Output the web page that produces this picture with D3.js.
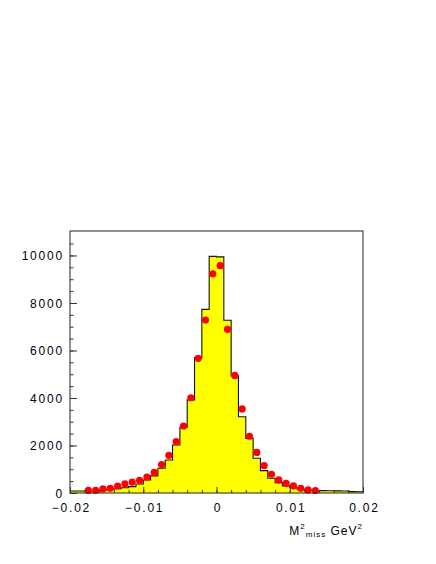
<!DOCTYPE html>
<html>
<head>
<meta charset="utf-8">
<script src="https://cdn.jsdelivr.net/npm/d3@7"></script>
<style>
	body { margin: 0; background: #fff; }
	svg text { font-family: "Liberation Sans", Arial, Helvetica, sans-serif; fill: #000; }
	.axis text { font-size: 12px; letter-spacing: 1.8px; }
	.axis line { stroke: #333; }
</style>
</head>
<body>
<div id="picture"></div>
<script>
// histogram: 40 bins of 0.001 GeV^2 from -0.02 to 0.02
const binWidth  = 0.001
	, binEdges  = d3.range(0, 41).map(i => +(-0.02 + i * binWidth).toFixed(4))
	, histCounts = [
		  85,   85,   95,  105,  125,  150,  180,  220,  270,  380,
		 550,  720, 1040, 1390, 2020, 2770, 3920, 5700, 7730, 9960,
		9940, 7270, 4930, 3210, 2300, 1460,  940,  620,  435,  300,
		 220,  160,  125,  105,  100,   95,   90,   85,   60,   55
	]
	// red points: bin centres from -0.0175 to 0.0135
	, dotX = d3.range(2, 34).map(i => +(-0.02 + (i + 0.5) * binWidth).toFixed(5))
	, dotY = [
		 110,  115,  170,  200,  295,  380,  460,  530,  670,  865,
		1200, 1580, 2160, 2820, 4010, 5670, 7280, 9230, 9570, 6890,
		4950, 3540, 2390, 1710, 1150,  790,  550,  410,  300,  200,
		 130,  105
	]
	, xMajor = [-0.02, -0.01, 0, 0.01, 0.02]
	, xMinor = d3.range(-10, 11).map(i => +(i * 0.002).toFixed(3))
	, yMajor = [0, 2000, 4000, 6000, 8000, 10000]
	, yMinor = d3.range(0, 22).map(i => i * 500);

const width  = 436
	, height = 564
	, frame  = { left: 70, right: 363, top: 231, bottom: 493 };

const svg = d3.select("#picture")
	.append("svg")
		.attr("width", width)
		.attr("height", height);

const x = d3.scaleLinear()
		.domain([-0.02, 0.02])
		.range([frame.left, frame.right])
	, y = d3.scaleLinear()
		.domain([0, 11030])
		.range([frame.bottom, frame.top]);

// histogram fill + outline
const steps = binEdges.map((e, i) => [e, histCounts[Math.min(i, histCounts.length - 1)]]);

svg.append("path")
	.datum(steps)
	.attr("fill", "#ffff00")
	.attr("stroke", "none")
	.attr("d", d3.area()
		.curve(d3.curveStepAfter)
		.x(d => x(d[0]))
		.y0(y(0))
		.y1(d => y(d[1])));

svg.append("path")
	.datum(steps)
	.attr("fill", "none")
	.attr("stroke", "#111")
	.attr("stroke-width", 1.1)
	.attr("d", d3.line()
		.curve(d3.curveStepAfter)
		.x(d => x(d[0]))
		.y(d => y(d[1])));

// points
svg.append("g")
	.selectAll("circle")
	.data(dotX.map((v, i) => [v, dotY[i]]))
	.join("circle")
		.attr("cx", d => x(d[0]))
		.attr("cy", d => y(d[1]))
		.attr("r", 3.6)
		.attr("fill", "#ff0000");

// frame
svg.append("rect")
	.attr("x", frame.left)
	.attr("y", frame.top)
	.attr("width", frame.right - frame.left)
	.attr("height", frame.bottom - frame.top)
	.attr("fill", "none")
	.attr("stroke", "#222")
	.attr("stroke-width", 1);

// axes (ticks inside the frame, ROOT style)
svg.append("g")
	.attr("class", "axis")
	.attr("transform", "translate(0," + frame.bottom + ")")
	.call(d3.axisBottom(x)
		.tickValues(xMinor)
		.tickSize(-3)
		.tickFormat(""))
	.call(g => g.select(".domain").remove());
svg.append("g")
	.attr("class", "axis")
	.attr("transform", "translate(0," + frame.bottom + ")")
	.call(d3.axisBottom(x)
		.tickValues(xMajor)
		.tickSize(-6)
		.tickPadding(10)
		.tickFormat(d => d === 0 ? "0" : d3.format("")(d).replace("-", "\u2212")))
	.call(g => g.select(".domain").remove())
	.call(g => g.selectAll("text").attr("dx", "0.9px").attr("dy", "0.71em"));

svg.append("g")
	.attr("class", "axis")
	.attr("transform", "translate(" + frame.left + ",0)")
	.call(d3.axisLeft(y)
		.tickValues(yMinor)
		.tickSize(-3.5)
		.tickFormat(""))
	.call(g => g.select(".domain").remove());
svg.append("g")
	.attr("class", "axis")
	.attr("transform", "translate(" + frame.left + ",0)")
	.call(d3.axisLeft(y)
		.tickValues(yMajor)
		.tickSize(-7)
		.tickPadding(6)
		.tickFormat(d3.format("d")))
	.call(g => g.select(".domain").remove())
	.call(g => g.selectAll("text").attr("dy", "0.36em"));

// axis title: M^2_miss GeV^2
const title = svg.append("text")
	.attr("x", frame.right)
	.attr("y", 535)
	.attr("text-anchor", "end")
	.style("font-size", "12px")
	.style("letter-spacing", "1px");
title.append("tspan").text("M");
title.append("tspan").attr("dy", -6).style("font-size", "8px").text("2");
title.append("tspan").attr("dy", 8).style("font-size", "8px").text("miss");
title.append("tspan").attr("dy", -2).text(" GeV");
title.append("tspan").attr("dy", -6).style("font-size", "8px").text("2");
</script>
</body>
</html>
